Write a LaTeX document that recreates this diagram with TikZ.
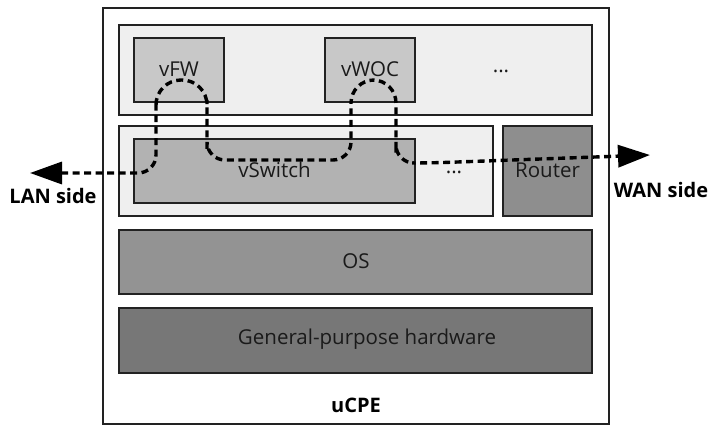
\documentclass[tikz,border=0pt]{standalone}
\usepackage{fontspec}
\setmainfont{Open Sans}
\usetikzlibrary{arrows.meta}
\definecolor{rowgray}{HTML}{EFEFEF}
\definecolor{vnfgray}{HTML}{C8C8C8}
\definecolor{swgray}{HTML}{B2B2B2}
\definecolor{routergray}{HTML}{8E8E8E}
\definecolor{osgray}{HTML}{939393}
\definecolor{hwgray}{HTML}{777777}
\definecolor{edge}{HTML}{222222}
\definecolor{ink}{HTML}{1A1A1A}
\tikzset{
  blockbox/.style={draw=edge, line width=1.6pt, inner sep=0pt},
  lbl/.style={font=\fontsize{20.5}{24}\selectfont, text=ink},
  sidelbl/.style={font=\bfseries\fontsize{20}{24}\selectfont, text=black},
  flowtip/.tip={Triangle[length=32pt,width=22pt]},
  flow/.style={line width=3.4pt, dash pattern=on 7pt off 4.5pt, flowtip-flowtip}
}
\begin{document}
\begin{tikzpicture}[x=1pt,y=-1pt]
\useasboundingbox (0,0) rectangle (714,426);

% enclosing uCPE box
\draw[draw=edge, line width=1.4pt, fill=white] (103,8) rectangle (609,424);
\node[sidelbl] (ucpe) at (356,405) {uCPE};

% VNF layer
\draw[blockbox, fill=rowgray] (119,25) rectangle (592,115);
\draw[blockbox, fill=vnfgray] (134,38) rectangle (224,102);
\node[lbl] (vfw) at (179,69) {vFW};
\draw[blockbox, fill=vnfgray] (325,38) rectangle (415,102);
\node[lbl] (vwoc) at (370,69) {vWOC};
\node[lbl] (vnfmore) at (501,71) {...};

% switching layer
\draw[blockbox, fill=rowgray] (119,126) rectangle (493,216);
\draw[blockbox, fill=swgray] (134,139) rectangle (415,203);
\node[lbl] (vswitch) at (274.5,170) {vSwitch};
\node[lbl] (swmore) at (454,172) {...};
\draw[blockbox, fill=routergray] (503,126) rectangle (592,216);
\node[lbl] (router) at (547.5,170) {Router};

% OS and hardware
\draw[blockbox, fill=osgray] (119,230) rectangle (592,294);
\node[lbl] (os) at (356,261) {OS};
\draw[blockbox, fill=hwgray] (119,308) rectangle (592,373);
\node[lbl] (hw) at (367,339) {General-purpose hardware};

% traffic path
\coordinate (lan) at (30,173);
\coordinate (wan) at (650,155);
\node[sidelbl] (lanlbl) at (53,196) {LAN side};
\node[sidelbl] (wanlbl) at (661,190) {WAN side};

\draw[flow]
  (lan) [rounded corners=18] -- (156,173) -- (156,120)
  [rounded corners=25] -- (156,80) -- (207,80) -- (207,125)
  [rounded corners=18] -- (207,160) -- (351,160) -- (351,120)
  [rounded corners=23] -- (351,80) -- (396,80) -- (396,130)
  [rounded corners=18] -- (396,163) -- (430,163) [sharp corners] -- (wan);
\end{tikzpicture}
\end{document}
